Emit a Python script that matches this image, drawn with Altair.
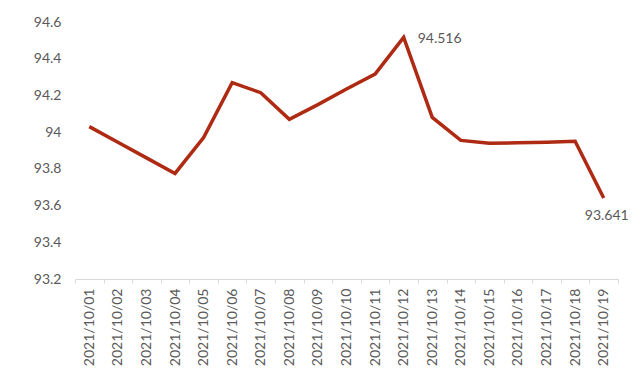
import altair as alt
import pandas as pd

dates = ["2021/10/01", "2021/10/02", "2021/10/03", "2021/10/04", "2021/10/05",
         "2021/10/06", "2021/10/07", "2021/10/08", "2021/10/09", "2021/10/10",
         "2021/10/11", "2021/10/12", "2021/10/13", "2021/10/14", "2021/10/15",
         "2021/10/16", "2021/10/17", "2021/10/18", "2021/10/19"]
values = [94.03, 93.945, 93.86, 93.775, 93.97,
          94.27, 94.215, 94.07, 94.15, 94.235,
          94.316, 94.516, 94.08, 93.955, 93.94,
          93.942, 93.945, 93.95, 93.641]
label_dates = ["2021/10/12", "2021/10/19"]
label_values = [94.516, 93.641]
label_texts = ["94.516", "93.641"]
y_ticks = [93.2, 93.4, 93.6, 93.8, 94.0, 94.2, 94.4, 94.6]

df = pd.DataFrame({"date": dates, "value": values})
lab = pd.DataFrame({"date": label_dates, "value": label_values, "text": label_texts})

FONT = "Lato"
GRAY = "#595959"

x = alt.X("date:N", sort=dates, title=None,
          scale=alt.Scale(paddingInner=0, paddingOuter=0),
          axis=alt.Axis(labelAngle=-90, labelFont=FONT, labelFontSize=14,
                        labelColor=GRAY, domainColor="#d9d9d9", tickColor="#d9d9d9",
                        tickSize=4, tickBand="extent", labelPadding=5, grid=False,
                        labelOverlap=False))
y = alt.Y("value:Q", title=None,
          scale=alt.Scale(domain=[93.2, 94.6], zero=False, nice=False),
          axis=alt.Axis(values=y_ticks, format=".1~f", labelFont=FONT, labelFontSize=14,
                        labelColor=GRAY, domain=False, ticks=False, grid=False,
                        labelPadding=14, labelOverlap=False))

line = alt.Chart(df).mark_line(color="#AE2A12", strokeWidth=3.5, strokeJoin="miter").encode(x=x, y=y)

lab1 = alt.Chart(lab[lab.date == "2021/10/12"]).mark_text(
    align="left", baseline="middle", dx=14, dy=2, font=FONT, fontSize=14, color=GRAY
).encode(x=x, y=y, text="text:N")
lab2 = alt.Chart(lab[lab.date == "2021/10/19"]).mark_text(
    align="center", baseline="middle", dx=3, dy=18, font=FONT, fontSize=14, color=GRAY
).encode(x=x, y=y, text="text:N")

chart = alt.layer(line, lab1, lab2).properties(
    width=543, height=257,
    autosize=alt.AutoSizeParams(type="none"),
    padding={"left": 75, "top": 22, "right": 22, "bottom": 93},
    background="white",
).configure_view(strokeWidth=0, stroke="transparent")

chart.save("out.html", embed_options={"renderer": "svg", "actions": False})
